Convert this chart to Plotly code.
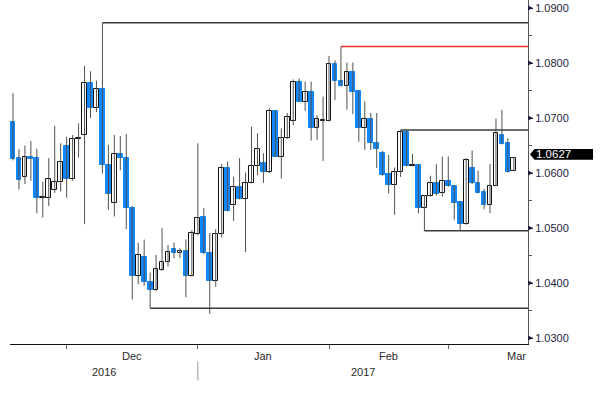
import plotly.graph_objects as go
import pandas as pd

# ---------------- data ----------------
start_date = "2016-11-17"
end_date = "2017-03-15"

opens = [1.0692, 1.0627, 1.0592, 1.0629, 1.0627, 1.0555, 1.0554, 1.0570, 1.0583, 1.0649,
         1.0589, 1.0661, 1.0670, 1.0764, 1.0718, 1.0753, 1.0615, 1.0546, 1.0634, 1.0627,
         1.0537, 1.0413, 1.0447, 1.0402, 1.0388, 1.0424, 1.0438, 1.0461, 1.0454, 1.0459,
         1.0413, 1.0490, 1.0520, 1.0455, 1.0404, 1.0489, 1.0609, 1.0541, 1.0575, 1.0553,
         1.0582, 1.0613, 1.0618, 1.0601, 1.0713, 1.0630, 1.0663, 1.0695, 1.0765, 1.0730,
         1.0747, 1.0681, 1.0694, 1.0695, 1.0798, 1.0768, 1.0758, 1.0783, 1.0749, 1.0681,
         1.0698, 1.0655, 1.0636, 1.0598, 1.0578, 1.0601, 1.0675, 1.0613, 1.0615, 1.0536,
         1.0558, 1.0582, 1.0563, 1.0586, 1.0576, 1.0547, 1.0507, 1.0610, 1.0582, 1.0565,
         1.0541, 1.0577, 1.0669, 1.0654, 1.0604]
highs = [1.0745, 1.0643, 1.0650, 1.0658, 1.0644, 1.0584, 1.0627, 1.0686, 1.0654, 1.0666,
         1.0669, 1.0690, 1.0795, 1.0785, 1.0768, 1.0873, 1.0651, 1.0669, 1.0667, 1.0671,
         1.0540, 1.0473, 1.0479, 1.0419, 1.0451, 1.0500, 1.0469, 1.0474, 1.0463, 1.0479,
         1.0496, 1.0654, 1.0536, 1.0491, 1.0498, 1.0616, 1.0621, 1.0593, 1.0627, 1.0601,
         1.0684, 1.0672, 1.0636, 1.0718, 1.0714, 1.0681, 1.0709, 1.0770, 1.0772, 1.0766,
         1.0766, 1.0705, 1.0739, 1.0813, 1.0805, 1.0830, 1.0801, 1.0801, 1.0750, 1.0730,
         1.0709, 1.0709, 1.0640, 1.0633, 1.0610, 1.0678, 1.0678, 1.0635, 1.0616, 1.0560,
         1.0595, 1.0616, 1.0630, 1.0630, 1.0578, 1.0548, 1.0627, 1.0641, 1.0604, 1.0571,
         1.0616, 1.0699, 1.0715, 1.0663, 1.0629]
lows = [1.0623, 1.0570, 1.0580, 1.0586, 1.0527, 1.0519, 1.0540, 1.0564, 1.0566, 1.0555,
        1.0586, 1.0628, 1.0507, 1.0700, 1.0711, 1.0599, 1.0533, 1.0521, 1.0605, 1.0498,
        1.0370, 1.0398, 1.0395, 1.0354, 1.0385, 1.0422, 1.0430, 1.0445, 1.0445, 1.0374,
        1.0412, 1.0487, 1.0452, 1.0344, 1.0393, 1.0483, 1.0530, 1.0513, 1.0552, 1.0456,
        1.0581, 1.0596, 1.0582, 1.0600, 1.0629, 1.0590, 1.0662, 1.0687, 1.0729, 1.0713,
        1.0659, 1.0660, 1.0622, 1.0694, 1.0733, 1.0757, 1.0715, 1.0707, 1.0657, 1.0642,
        1.0642, 1.0609, 1.0595, 1.0563, 1.0524, 1.0593, 1.0612, 1.0612, 1.0527, 1.0495,
        1.0557, 1.0559, 1.0557, 1.0575, 1.0515, 1.0495, 1.0506, 1.0580, 1.0563, 1.0534,
        1.0527, 1.0576, 1.0652, 1.0601, 1.0603]
closes = [1.0625, 1.0587, 1.0630, 1.0625, 1.0554, 1.0556, 1.0589, 1.0583, 1.0620, 1.0589,
          1.0661, 1.0663, 1.0764, 1.0718, 1.0752, 1.0615, 1.0561, 1.0634, 1.0627, 1.0537,
          1.0413, 1.0451, 1.0402, 1.0388, 1.0425, 1.0438, 1.0456, 1.0454, 1.0459, 1.0413,
          1.0491, 1.0518, 1.0454, 1.0404, 1.0489, 1.0609, 1.0531, 1.0575, 1.0553, 1.0582,
          1.0613, 1.0644, 1.0601, 1.0713, 1.0630, 1.0663, 1.0702, 1.0765, 1.0730, 1.0747,
          1.0681, 1.0699, 1.0696, 1.0798, 1.0768, 1.0758, 1.0783, 1.0748, 1.0681, 1.0698,
          1.0654, 1.0643, 1.0596, 1.0578, 1.0601, 1.0674, 1.0613, 1.0614, 1.0536, 1.0558,
          1.0582, 1.0561, 1.0586, 1.0576, 1.0545, 1.0507, 1.0624, 1.0581, 1.0564, 1.0541,
          1.0577, 1.0672, 1.0653, 1.0602, 1.0627]

level_values = [1.0873, 1.0830, 1.0678, 1.0495, 1.0354]
level_start_dates = ["2016-12-08", "2017-02-02", "2017-02-16", "2017-02-22", "2016-12-20"]
level_colors = ["#3c3c3c", "#e8312c", "#3c3c3c", "#3c3c3c", "#3c3c3c"]

y_tick_values = [1.03, 1.04, 1.05, 1.06, 1.07, 1.08, 1.09]
month_labels = ["Dec", "Jan", "Feb", "Mar"]
year_labels = ["2016", "2017"]

# ---------------- styles ----------------
UP_FILL = "#ffffff"
UP_LINE = "#111111"
DOWN_FILL = "#0f87ff"
WICK = "#505050"
LABEL_COLOR = "#1c1c3c"
FONT = "Liberation Sans, Arial, sans-serif"

dates = pd.bdate_range(start_date, end_date)
n = len(dates)
idx = list(range(1, n + 1))
x_min, x_max = 0.5, n + 2.37
y_min, y_max = 1.028909, 1.091455

# wicks
wx, wy = [], []
for i, h, l in zip(idx, highs, lows):
    wx += [i, i, None]
    wy += [l, h, None]

body_base = [min(o, c) for o, c in zip(opens, closes)]
body_h = [max(abs(c - o), 0.00008) for o, c in zip(opens, closes)]
up = [c >= o for o, c in zip(opens, closes)]
fills = [UP_FILL if u else DOWN_FILL for u in up]
edges = [UP_LINE if u else DOWN_FILL for u in up]

fig = go.Figure()
fig.add_trace(go.Scatter(x=wx, y=wy, mode="lines", line=dict(color=WICK, width=1),
                         hoverinfo="skip", showlegend=False))
fig.add_trace(go.Bar(x=idx, y=body_h, base=body_base, width=0.8,
                     marker=dict(color=fills, line=dict(color=edges, width=1)),
                     hoverinfo="skip", showlegend=False))

shapes = []
# horizontal levels
for val, d, col in zip(level_values, level_start_dates, level_colors):
    xi = dates.get_loc(pd.Timestamp(d)) + 1
    shapes.append(dict(type="line", xref="x", yref="y", x0=xi, x1=x_max, y0=val, y1=val,
                       line=dict(color=col, width=1.5), layer="above"))

# right axis triangles
for v in y_tick_values:
    shapes.append(dict(type="path", xref="paper", yref="y", xsizemode="pixel", ysizemode="pixel",
                       xanchor=1, yanchor=v, path="M0,2.5 L5,0 L0,-2.5 Z",
                       fillcolor=LABEL_COLOR, line=dict(width=0)))

# last price box
last = closes[-1]
shapes.append(dict(type="path", xref="paper", yref="y", xsizemode="pixel", ysizemode="pixel",
                   xanchor=1, yanchor=last,
                   path="M2,3.8 L6.5,9.2 L65,9.2 L65,-1.6 L6.5,-1.6 Z",
                   fillcolor="#000000", line=dict(width=0)))

# month ticks / labels
ext = pd.bdate_range(start_date, (pd.Timestamp(end_date) + pd.offsets.MonthEnd(0)))
ext_periods = list(ext.to_period("M"))
uniq = list(dict.fromkeys(ext_periods))
month_ticks, month_ends = [], []
for k in range(1, len(uniq)):
    prev_last = max(i for i, p in enumerate(ext_periods, start=1) if p == uniq[k - 1])
    this_last = max(i for i, p in enumerate(ext_periods, start=1) if p == uniq[k])
    month_ticks.append(prev_last)
    month_ends.append(this_last)

annotations = []
for lab, t, e in zip(month_labels, month_ticks, month_ends):
    annotations.append(dict(x=(t + e) / 2, xref="x", y=0, yref="paper", yanchor="middle",
                            yshift=-11.5, text=lab, showarrow=False,
                            font=dict(family=FONT, size=11, color="#2a2a2a")))

year_boundary = max(i for i, d in enumerate(dates, start=1) if d.year == 2016)
year_pos = [(x_min + year_boundary) / 2, (year_boundary + x_max) / 2]
for lab, xp in zip(year_labels, year_pos):
    annotations.append(dict(x=xp, xref="x", y=0, yref="paper", yanchor="middle",
                            yshift=-28, text=lab, showarrow=False,
                            font=dict(family=FONT, size=11, color="#2a2a2a")))
shapes.append(dict(type="line", xref="x", yref="paper", ysizemode="pixel", yanchor=0,
                   x0=year_boundary, x1=year_boundary, y0=-17.5, y1=-36.5,
                   line=dict(color="#9a9a9a", width=1)))

annotations.append(dict(x=1, xref="paper", y=last, yref="y", xanchor="left", yanchor="middle",
                        xshift=6, yshift=3.8, text=f"{last:.4f}", showarrow=False,
                        font=dict(family=FONT, size=11.5, color="#ffffff")))

fig.update_layout(
    width=600, height=397,
    margin=dict(l=10, r=72, t=0, b=53, pad=0),
    paper_bgcolor="white", plot_bgcolor="white",
    showlegend=False, bargap=0,
    shapes=shapes, annotations=annotations,
    font=dict(family=FONT, size=11, color=LABEL_COLOR),
)
fig.update_xaxes(range=[x_min, x_max], showgrid=False, zeroline=False,
                 showline=True, linecolor="#111111", linewidth=1,
                 tickmode="array", tickvals=month_ticks, ticks="outside", ticklen=4,
                 tickcolor="#666666", showticklabels=False)
fig.update_yaxes(range=[y_min, y_max], side="right", showgrid=False, zeroline=False,
                 showline=True, linecolor="#555555", linewidth=1,
                 tickmode="array", tickvals=y_tick_values, tickformat=".4f",
                 ticks="outside", ticklen=4, tickcolor=LABEL_COLOR,
                 tickfont=dict(family=FONT, size=11, color=LABEL_COLOR),
                 minor=dict(dtick=0.005, ticks="outside", ticklen=3, tickcolor="#555555",
                            showgrid=False))

fig.write_html("out.html", config={"displayModeBar": False},
               post_script="document.body.style.margin='0px';")
